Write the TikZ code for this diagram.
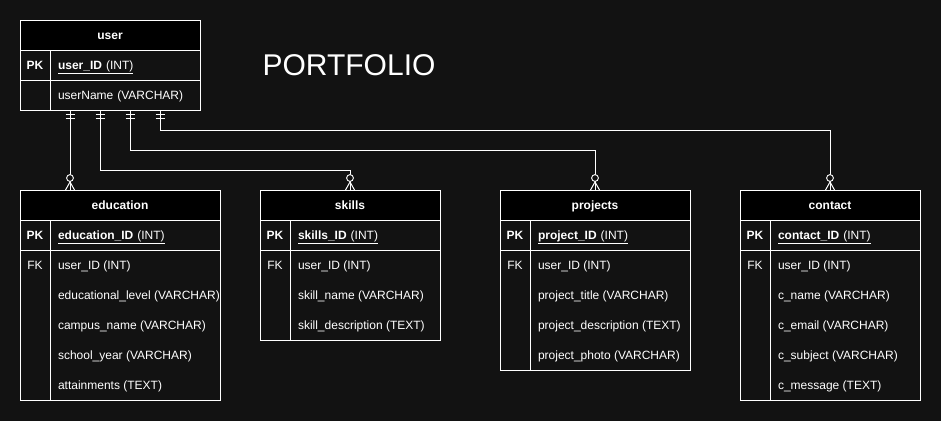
\documentclass[tikz,border=0pt]{standalone}
\usepackage{fontspec}
\setmainfont{Liberation Sans}
\usetikzlibrary{positioning,calc}
\definecolor{canvas}{HTML}{121212}

\begin{document}
\begin{tikzpicture}[
  x=1pt,y=-1pt,
  every node/.style={font=\fontsize{12}{14}\selectfont,text=white,outer sep=0pt},
  frame/.style={draw=white,line width=1pt},
  head/.style={frame,fill=black,font=\fontsize{12}{14}\selectfont\bfseries,
    minimum height=30pt,inner sep=0pt,anchor=north west,
    text height=10.8pt,text depth=2.2pt},
  keycell/.style={frame,fill=canvas,minimum width=30pt,minimum height=30pt,
    inner sep=0pt,anchor=north west,text height=10.8pt,text depth=2.2pt},
  pkcell/.style={keycell,font=\fontsize{12}{14}\selectfont\bfseries},
  fieldcell/.style={frame,fill=canvas,anchor=north west,inner xsep=8pt,
    inner ysep=0pt,text width=#1,align=left,minimum height=30pt,
    text height=10.8pt,text depth=2.2pt},
  bodycell/.style={frame,fill=canvas,anchor=north west,inner sep=0pt},
  keytext/.style={anchor=north west,minimum width=30pt,minimum height=30pt,
    inner sep=0pt,text height=10.8pt,text depth=2.2pt},
  rowtext/.style={anchor=north west,minimum height=30pt,inner xsep=8pt,
    inner ysep=0pt,text height=10.8pt,text depth=2.2pt},
  title/.style={font=\fontsize{30}{36}\selectfont},
  rel/.style={draw=white,line width=1pt},
  onemark/.pic={
    \draw[line width=1pt,white] (-4.5,4.3) -- (4.5,4.3) (-4.5,8.3) -- (4.5,8.3);},
  manymark/.pic={
    \draw[line width=1pt,white] (-4.5,0) -- (0,-8) -- (4.5,0);
    \draw[line width=0.9pt,white,fill=canvas] (0,-12) circle[radius=3.4];}]

  \useasboundingbox[fill=canvas] (0,0) rectangle (941,421);

  \node[title] (portfolio) at (349,65) {PORTFOLIO};

  % user
  \node[head,minimum width=180pt] (user) at (20,20) {user};
  \node[pkcell] (user-pk) at (user.south west) {PK};
  \node[fieldcell=134pt] (user-id) at (user-pk.north east)
    {\underline{\textbf{user\_ID} (INT)}};
  \node[keycell] (user-k1) at (user-pk.south west) {};
  \node[fieldcell=134pt] (user-name) at (user-k1.north east)
    {userName (VARCHAR)};

  % education
  \node[head,minimum width=200pt] (edu) at (20,190) {education};
  \node[pkcell] (edu-pk) at (edu.south west) {PK};
  \node[fieldcell=154pt] (edu-id) at (edu-pk.north east)
    {\underline{\textbf{education\_ID} (INT)}};
  \node[keycell,minimum height=150pt] (edu-kb) at (edu-pk.south west) {};
  \node[bodycell,minimum width=170pt,minimum height=150pt] (edu-fb)
    at (edu-kb.north east) {};
  \node[keytext] (edu-fk) at (edu-kb.north west) {FK};
  \node[rowtext] (edu-r1) at (edu-fb.north west) {user\_ID (INT)};
  \node[rowtext] (edu-r2) at (edu-r1.south west) {educational\_level (VARCHAR)};
  \node[rowtext] (edu-r3) at (edu-r2.south west) {campus\_name (VARCHAR)};
  \node[rowtext] (edu-r4) at (edu-r3.south west) {school\_year (VARCHAR)};
  \node[rowtext] (edu-r5) at (edu-r4.south west) {attainments (TEXT)};

  % skills
  \node[head,minimum width=180pt] (ski) at (260,190) {skills};
  \node[pkcell] (ski-pk) at (ski.south west) {PK};
  \node[fieldcell=134pt] (ski-id) at (ski-pk.north east)
    {\underline{\textbf{skills\_ID} (INT)}};
  \node[keycell,minimum height=90pt] (ski-kb) at (ski-pk.south west) {};
  \node[bodycell,minimum width=150pt,minimum height=90pt] (ski-fb)
    at (ski-kb.north east) {};
  \node[keytext] (ski-fk) at (ski-kb.north west) {FK};
  \node[rowtext] (ski-r1) at (ski-fb.north west) {user\_ID (INT)};
  \node[rowtext] (ski-r2) at (ski-r1.south west) {skill\_name (VARCHAR)};
  \node[rowtext] (ski-r3) at (ski-r2.south west) {skill\_description (TEXT)};

  % projects
  \node[head,minimum width=190pt] (pro) at (500,190) {projects};
  \node[pkcell] (pro-pk) at (pro.south west) {PK};
  \node[fieldcell=144pt] (pro-id) at (pro-pk.north east)
    {\underline{\textbf{project\_ID} (INT)}};
  \node[keycell,minimum height=120pt] (pro-kb) at (pro-pk.south west) {};
  \node[bodycell,minimum width=160pt,minimum height=120pt] (pro-fb)
    at (pro-kb.north east) {};
  \node[keytext] (pro-fk) at (pro-kb.north west) {FK};
  \node[rowtext] (pro-r1) at (pro-fb.north west) {user\_ID (INT)};
  \node[rowtext] (pro-r2) at (pro-r1.south west) {project\_title (VARCHAR)};
  \node[rowtext] (pro-r3) at (pro-r2.south west) {project\_description (TEXT)};
  \node[rowtext] (pro-r4) at (pro-r3.south west) {project\_photo (VARCHAR)};

  % contact
  \node[head,minimum width=180pt] (con) at (740,190) {contact};
  \node[pkcell] (con-pk) at (con.south west) {PK};
  \node[fieldcell=134pt] (con-id) at (con-pk.north east)
    {\underline{\textbf{contact\_ID} (INT)}};
  \node[keycell,minimum height=150pt] (con-kb) at (con-pk.south west) {};
  \node[bodycell,minimum width=150pt,minimum height=150pt] (con-fb)
    at (con-kb.north east) {};
  \node[keytext] (con-fk) at (con-kb.north west) {FK};
  \node[rowtext] (con-r1) at (con-fb.north west) {user\_ID (INT)};
  \node[rowtext] (con-r2) at (con-r1.south west) {c\_name (VARCHAR)};
  \node[rowtext] (con-r3) at (con-r2.south west) {c\_email (VARCHAR)};
  \node[rowtext] (con-r4) at (con-r3.south west) {c\_subject (VARCHAR)};
  \node[rowtext] (con-r5) at (con-r4.south west) {c\_message (TEXT)};

  % relations
  \coordinate (u-edu) at ($(user-k1.south west)+(50,0)$);
  \coordinate (u-ski) at ($(user-k1.south west)+(80,0)$);
  \coordinate (u-pro) at ($(user-k1.south west)+(110,0)$);
  \coordinate (u-con) at ($(user-k1.south west)+(140,0)$);
  \coordinate (e-edu) at (u-edu |- edu.north);

  \draw[rel] (u-edu) -- (e-edu);
  \draw[rel] (u-ski) |- ($(ski.north)+(0,-20)$) -- (ski.north);
  \draw[rel] (u-pro) |- ($(pro.north)+(0,-40)$) -- (pro.north);
  \draw[rel] (u-con) |- ($(con.north)+(0,-60)$) -- (con.north);

  \pic at (u-edu) {onemark};
  \pic at (u-ski) {onemark};
  \pic at (u-pro) {onemark};
  \pic at (u-con) {onemark};
  \pic at (e-edu) {manymark};
  \pic at (ski.north) {manymark};
  \pic at (pro.north) {manymark};
  \pic at (con.north) {manymark};
\end{tikzpicture}
\end{document}
